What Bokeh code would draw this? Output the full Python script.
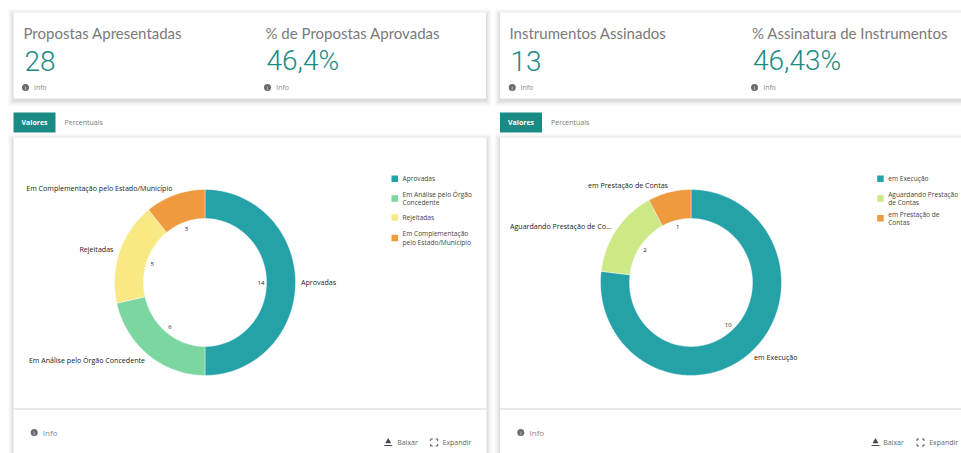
import math
from bokeh.plotting import figure
from bokeh.models import Range1d
from bokeh.core.properties import value
from bokeh.embed import file_html
from bokeh.resources import INLINE

# ---- data ----
kpi_titles = ["Propostas Apresentadas", "% de Propostas Aprovadas", "Instrumentos Assinados", "% Assinatura de Instrumentos"]
kpi_values = ["28", "46,4%", "13", "46,43%"]

left_categories = ["Aprovadas", "Em Análise pelo Órgão Concedente", "Rejeitadas", "Em Complementação pelo Estado/Município"]
left_values = [14, 6, 5, 3]
left_colors = ["#25a2a8", "#7cd6a0", "#f9e985", "#ee9a3e"]
left_legend = [["Aprovadas"], ["Em Análise pelo Órgão", "Concedente"], ["Rejeitadas"], ["Em Complementação", "pelo Estado/Município"]]

right_categories = ["em Execução", "Aguardando Prestação de Co...", "em Prestação de Contas"]
right_values = [10, 2, 1]
right_colors = ["#25a2a8", "#cde986", "#ee9a3e"]
right_legend = [["em Execução"], ["Aguardando Prestação", "de Contas"], ["em Prestação de", "Contas"]]

TITLE_FONT = value("Lato")
VALUE_FONT = value("Roboto Light, Roboto")
BODY_FONT = value("Open Sans")
TEAL = "#1a8a84"

p = figure(width=961, height=453, output_backend="svg", toolbar_location=None,
           x_range=Range1d(0, 961), y_range=Range1d(453, 0), min_border=0,
           background_fill_color="#ffffff", border_fill_color="#ffffff", outline_line_color=None)
p.axis.visible = False
p.grid.visible = False


def label(x, y, s, size=8, color="#444444", align="left", font=BODY_FONT, style="normal"):
    p.text(x=[x], y=[y], text=[s], text_font=font, text_font_size=f"{size}px", text_color=color,
           text_align=align, text_baseline="middle", text_font_style=style)


def card(x0, x1, y0, y1):
    for g, a in ((6, 0.012), (5, 0.016), (4, 0.02), (3, 0.025), (2, 0.03), (1, 0.04)):
        p.quad(left=x0 - g, right=x1 + g, top=y0 - g + 2, bottom=y1 + g + 2,
               fill_color="#000000", fill_alpha=a, line_color=None)
    p.quad(left=x0, right=x1, top=y0, bottom=y1, fill_color="#ffffff", line_color=None)


def info(x, y, tx, size=7):
    p.scatter(x=[x], y=[y], size=7, marker="circle", fill_color="#676b70", line_color=None)
    label(x, y, "i", size=5, color="#ffffff", align="center")
    label(tx, y, "Info", size=size, color="#8a8a8a")


def tabs(x):
    p.quad(left=x, right=x + 42, top=112, bottom=132, fill_color=TEAL, line_color=None)
    label(x + 21, 122, "Valores", size=7, color="#ffffff", align="center", style="bold")
    label(x + 51, 122, "Percentuais", size=7, color="#7a7a7a")


def donut(values, colors, cx, cy):
    rx0, rx1, ry0, ry1 = 61.5, 90.5, 64, 93
    total = sum(values)
    cum = 0
    for v, c in zip(values, colors):
        a0, a1 = cum / total * 2 * math.pi, (cum + v) / total * 2 * math.pi
        n = max(8, int(v / total * 240))
        ang = [a0 + (a1 - a0) * i / n for i in range(n + 1)]
        xs = [cx + rx1 * math.sin(t) for t in ang] + [cx + rx0 * math.sin(t) for t in reversed(ang)]
        ys = [cy - ry1 * math.cos(t) for t in ang] + [cy - ry0 * math.cos(t) for t in reversed(ang)]
        p.patch(xs, ys, fill_color=c, line_color="#ffffff", line_width=0.4)
        m = (a0 + a1) / 2
        label(cx + 56 * math.sin(m), cy - 57 * math.cos(m), str(v), size=6, color="#222222", align="center")
        cum += v


def legend(groups, colors, sx, tx, ys):
    for lines, c, y in zip(groups, colors, ys):
        p.quad(left=sx, right=sx + 6.5, top=y - 3.2, bottom=y + 3.2, fill_color=c, line_color=None)
        off = -4.3 * (len(lines) - 1)
        for i, s in enumerate(lines):
            label(tx, y + off + i * 8.6, s, size=6.6, color="#444444")


def footer(ix, tx, bx, btx, ex, etx):
    info(ix, 432, tx, size=8)
    p.scatter(x=[bx], y=[441], size=6, marker="triangle", fill_color="#444a50", line_color=None)
    p.quad(left=bx - 4, right=bx + 4, top=444.5, bottom=445.5, fill_color="#444a50", line_color=None)
    label(btx, 442, "Baixar", size=7, color="#666666")
    xs, ys = [], []
    for sx in (-1, 1):
        for sy in (-1, 1):
            xs.append([ex + sx * 1.5, ex + sx * 3.5, ex + sx * 3.5])
            ys.append([442 + sy * 3.5, 442 + sy * 3.5, 442 + sy * 1.5])
    p.multi_line(xs, ys, line_color="#555555", line_width=1)
    label(etx, 442, "Expandir", size=7, color="#666666")


# ---- cards ----
card(13, 485.5, 12, 98)
card(499.5, 975, 12, 98)
card(13, 486, 137, 470)
card(499.5, 975, 137, 470)
for x0, x1 in ((13, 486), (499.5, 961)):
    p.segment(x0=[x0], y0=[408.5], x1=[x1], y1=[408.5], line_color="#d5d5d5", line_width=1)

# ---- KPIs ----
for t, v, x, ix, tx in zip(kpi_titles, kpi_values, (23, 265, 509, 751.5), (25, 267, 511.7, 754), (33.5, 275.7, 520, 762.7)):
    label(x, 32, t, size=15, color="#7a7a7a", font=TITLE_FONT)
    label(x + 1, 60, v, size=28, color=TEAL, font=VALUE_FONT)
    info(ix, 87, tx)

tabs(13)
tabs(499.5)

# ---- donuts ----
donut(left_values, left_colors, 204.5, 282)
donut(right_values, right_colors, 690.5, 282)

for s, x, y, a in zip(left_categories, (300.5, 144.5, 113, 172), (281.5, 359, 248.5, 187), ("left", "right", "right", "right")):
    label(x, y, s, size=7.1, color="#222222", align=a)
for s, x, y, a in zip(right_categories, (797, 611, 667.5), (356, 225, 184.5), ("right", "right", "right")):
    label(x, y, s, size=7.1, color="#222222", align=a)

legend(left_legend, left_colors, 391, 402, (178.3, 198, 217, 237.5))
legend(right_legend, right_colors, 876.7, 887.7, (178.3, 198, 217.8))

footer(33.7, 42.3, 387.7, 396.7, 433.7, 442)
footer(520.3, 529, 875, 882.7, 920, 928.7)

open("out.html", "w").write(file_html(p, INLINE))
